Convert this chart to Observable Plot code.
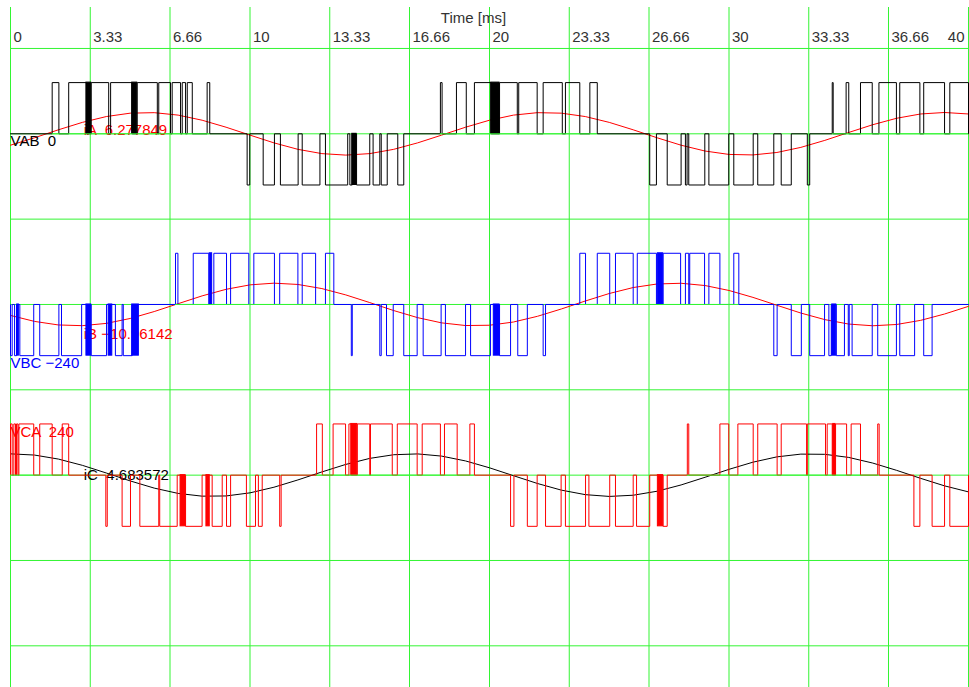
<!DOCTYPE html>
<html>
<head>
<meta charset="utf-8">
<script src="https://cdn.jsdelivr.net/npm/d3@7"></script>
<script src="https://cdn.jsdelivr.net/npm/@observablehq/plot@0.6"></script>
<style>
  body { margin: 0; background: #fff; }
  svg { display: block; }
  svg text { white-space: pre; }
</style>
</head>
<body>
<div id="chart"></div>
<script>
// Time axis (ms)
const tickTimes = [0, 3.33, 6.66, 10, 13.33, 16.66, 20, 23.33, 26.66, 30, 33.33, 36.66, 40];
const tickLabels = ["0", "3.33", "6.66", "10", "13.33", "16.66", "20", "23.33", "26.66", "30", "33.33", "36.66", "40"];

// Vertical scale: volts, one grid division = 200
const gridLevels = [200, 0, -200, -400, -600, -800, -1000, -1200];
const vdc = 120;

// Line-voltage PWM pulses: [start ms, end ms, polarity]
const vabPulses = [
  [1.74, 2.02, 1], [2.43, 3.17, 1], [3.37, 4.10, 1], [4.18, 5.08, 1], [5.29, 6.13, 1],
  [6.19, 6.68, 1], [6.75, 7.10, 1], [7.17, 7.31, 1], [7.38, 7.59, 1], [8.21, 8.32, 1],
  [9.88, 9.99, -1], [10.55, 11.02, -1], [11.27, 12.01, -1], [12.18, 12.92, -1], [13.15, 14.08, -1],
  [14.17, 14.27, -1], [14.45, 15.00, -1], [15.14, 15.42, -1], [15.48, 15.73, -1], [16.17, 16.42, -1],
  [17.95, 18.02, 1], [18.62, 19.03, 1], [19.37, 20.07, 1], [20.42, 21.16, 1], [21.22, 21.99, 1],
  [22.24, 23.04, 1], [23.17, 23.77, 1], [24.19, 24.50, 1],
  [26.69, 26.97, -1], [27.42, 28.00, -1], [28.18, 28.25, -1], [28.32, 28.99, -1], [29.16, 29.99, -1],
  [30.20, 31.01, -1], [31.20, 31.87, -1], [32.18, 32.60, -1], [33.27, 33.37, -1],
  [34.31, 34.35, 1], [34.89, 35.00, 1], [35.49, 35.98, 1], [36.26, 36.99, 1], [37.13, 37.97, 1],
  [38.13, 39.00, 1], [39.22, 40, 1]
];
// Stretches of very fast switching, drawn solid: [start ms, end ms, polarity]
const vabBursts = [[3.17, 3.37, 1], [5.08, 5.29, 1], [14.27, 14.45, -1], [20.07, 20.42, 1]];

const vbcPulses = [
  [0, 0.07, -1], [0.17, 0.25, -1], [0.39, 0.97, -1], [1.22, 2.02, -1], [2.13, 2.97, -1],
  [3.37, 4.01, -1], [4.38, 4.66, -1], [4.71, 5.08, -1],
  [6.89, 6.99, 1], [7.63, 8.28, 1], [8.49, 9.02, 1], [9.19, 9.95, 1], [10.16, 11.02, 1],
  [11.24, 12.00, 1], [12.18, 12.74, 1], [13.15, 13.50, 1],
  [14.23, 14.27, -1], [15.42, 15.48, -1], [15.70, 15.98, -1], [16.42, 16.98, -1], [17.23, 17.98, -1],
  [18.16, 19.00, -1], [19.21, 20.04, -1], [20.42, 20.88, -1], [21.18, 21.58, -1], [22.24, 22.34, -1],
  [23.77, 24.01, 1], [24.50, 25.02, 1], [25.26, 26.00, 1], [26.17, 26.97, 1], [27.25, 27.98, 1],
  [28.18, 28.32, 1], [28.36, 28.98, 1], [29.16, 29.62, 1], [30.20, 30.41, 1],
  [31.87, 32.01, -1], [32.60, 33.02, -1], [33.37, 33.99, -1], [34.17, 34.27, -1], [34.48, 34.82, -1],
  [34.98, 35.02, -1], [35.14, 35.98, -1], [36.21, 36.99, -1], [37.13, 37.75, -1], [38.13, 38.48, -1]
];
const vbcBursts = [[0.28, 0.35, -1], [3.17, 3.37, -1], [4.10, 4.25, -1], [5.08, 5.36, -1],
  [8.32, 8.42, 1], [20.18, 20.42, -1], [27.03, 27.25, 1], [34.31, 34.48, -1]];

const vcaPulses = [
  [0, 0.07, 1], [0.14, 0.21, 1], [0.25, 0.31, 1], [0.35, 0.97, 1], [1.22, 1.74, 1], [2.16, 2.43, 1],
  [3.98, 4.04, -1], [4.66, 5.01, -1], [5.40, 6.19, -1], [6.23, 6.96, -1], [7.31, 8.00, -1],
  [8.42, 8.84, -1], [9.02, 9.19, -1], [9.85, 10.23, -1], [10.35, 10.51, -1], [11.24, 11.30, -1],
  [12.78, 13.02, 1], [13.47, 13.99, 1], [14.13, 14.23, 1], [14.48, 15.00, 1], [15.03, 15.94, 1],
  [16.15, 16.98, 1], [17.19, 17.95, 1], [18.12, 18.65, 1], [19.18, 19.37, 1],
  [20.88, 21.02, -1], [21.58, 21.99, -1], [22.34, 22.99, -1], [23.17, 24.01, -1], [24.15, 25.02, -1],
  [25.26, 26.00, -1], [26.14, 26.69, -1], [27.25, 27.42, -1],
  [28.26, 28.32, 1], [29.62, 29.99, 1], [30.37, 31.01, 1], [31.20, 32.01, 1], [32.18, 33.24, 1],
  [33.27, 34.03, 1], [34.10, 34.31, 1], [34.45, 34.91, 1], [35.10, 35.49, 1], [36.21, 36.27, 1],
  [37.72, 37.97, -1], [38.48, 39.00, -1], [39.22, 40, -1]
];
const vcaBursts = [[7.10, 7.31, -1], [8.18, 8.32, -1], [14.23, 14.48, 1], [27.03, 27.25, -1], [34.35, 34.45, 1]];

// Phase currents (A), one reading per millisecond from 0 to 40 ms
const sampleTimes = d3.range(0, 41);
const iA = [-5.89, -2.06, 2.06, 5.89, 8.90, 10.65, 10.91, 9.64, 7.01, 3.40, -0.69, -4.68, -8.02, -10.23,
  -11.0, -10.23, -8.02, -4.68, -0.69, 3.40, 7.01, 9.64, 10.91, 10.65, 8.90, 5.89, 2.06, -2.06, -5.89,
  -8.90, -10.65, -10.91, -9.64, -7.01, -3.40, 0.69, 4.68, 8.02, 10.23, 11.0, 10.23];
const iB = [-5.66, -8.74, -10.58, -10.94, -9.77, -7.22, -3.66, 0.41, 4.43, 7.82, 10.12, 11.0, 10.33, 8.21,
  4.93, 0.97, -3.14, -6.80, -9.50, -10.88, -10.72, -9.06, -6.12, -2.33, 1.79, 5.66, 8.74, 10.58, 10.94,
  9.77, 7.22, 3.66, -0.41, -4.43, -7.82, -10.12, -11.0, -10.33, -8.21, -4.93, -0.97];
const iC = [10.99, 10.37, 8.30, 5.06, 1.10, -3.00, -6.69, -9.43, -10.85, -10.75, -9.14, -6.24, -2.47, 1.65,
  5.54, 8.65, 10.54, 10.96, 9.83, 7.33, 3.79, -0.28, -4.30, -7.74, -10.07, -10.99, -10.37, -8.30, -5.06,
  -1.10, 3.00, 6.69, 9.43, 10.85, 10.75, 9.14, 6.24, 2.47, -1.65, -5.54, -8.65];
const currentGain = 4.54; // display volts per ampere

// Cursor readout
const readoutTime = 3.06;
const readoutValues = [6.277849, -10.96142, 4.683572];

const traceNames = ["VAB", "VBC", "VCA"];
const tracePhases = [0, -240, 240];
const traceOffsets = [0, -400, -800];
const traceColors = ["#000000", "#0000ff", "#ff0000"];
const currentNames = ["iA", "iB", "iC"];
const currentColors = ["#ff0000", "#ff0000", "#000000"];
const gridColor = "#33f533";

const pulseSets = [vabPulses, vbcPulses, vcaPulses];
const burstSets = [vabBursts, vbcBursts, vcaBursts];
const currentSets = [iA, iB, iC];

// Signed readout: a blank takes the place of "+"
const signed = v => (v < 0 ? "\u2212" + String(-v) : "\u00a0" + String(v));

// Step outline of a pulse train around its own baseline
function stepPoints(pulses, k) {
  const off = traceOffsets[k];
  const pts = [{t: 0, v: off}];
  for (const [a, b, s] of pulses) {
    pts.push({t: a, v: off}, {t: a, v: off + s * vdc}, {t: b, v: off + s * vdc}, {t: b, v: off});
  }
  pts.push({t: 40, v: off});
  return pts;
}

// Baseline stretches spanning each run of positive pulses
function positiveRuns(pulses, k) {
  const runs = [];
  let cur = null;
  for (const [a, b, s] of pulses) {
    if (s > 0) {
      if (cur) cur.t2 = b; else cur = {t1: a, t2: b, v: traceOffsets[k]};
    } else if (cur) { runs.push(cur); cur = null; }
  }
  if (cur) runs.push(cur);
  return runs;
}

function levelAt(pulses, t) {
  for (const [a, b, s] of pulses) if (t >= a && t < b) return s * vdc;
  return 0;
}

const textColor = "#333";
const marks = [
  Plot.ruleX(tickTimes, {stroke: gridColor, strokeWidth: 1}),
  Plot.ruleY(gridLevels, {x1: 0, x2: 40, stroke: gridColor, strokeWidth: 1}),
  Plot.text(tickTimes.slice(0, -1), {x: d => d, text: (d, i) => tickLabels[i], frameAnchor: "top",
    dy: 30, dx: 3, textAnchor: "start", lineAnchor: "middle", fill: textColor}),
  Plot.text(tickTimes.slice(-1), {x: d => d, text: () => tickLabels[tickLabels.length - 1], frameAnchor: "top",
    dy: 30, dx: -4, textAnchor: "end", lineAnchor: "middle", fill: textColor}),
  Plot.text(["Time [ms]"], {frameAnchor: "top", dy: 11, dx: -16, lineAnchor: "middle", fill: textColor})
];

// Currents (under the voltage traces)
currentSets.forEach((vals, k) => {
  const data = sampleTimes.map((t, i) => ({t, v: traceOffsets[k] + vals[i] * currentGain}));
  marks.push(Plot.line(data, {x: "t", y: "v", stroke: currentColors[k], strokeWidth: 1}));
  marks.push(Plot.text([readoutValues[k]], {
    x: () => readoutTime, y: d => traceOffsets[k] + d * currentGain,
    text: d => `${currentNames[k]} ${signed(d)}`, fill: currentColors[k],
    textAnchor: "start", lineAnchor: "top", dy: 3
  }));
});

// Line voltages
pulseSets.forEach((pulses, k) => {
  marks.push(Plot.text([tracePhases[k]], {
    x: () => 0, y: () => traceOffsets[k] + levelAt(pulses, 0),
    text: d => `${traceNames[k]} ${signed(d)}`, fill: traceColors[k],
    textAnchor: "start", lineAnchor: "top", dy: 2
  }));
  marks.push(Plot.line(stepPoints(pulses, k), {x: "t", y: "v", stroke: traceColors[k], strokeWidth: 1}));
  marks.push(Plot.rect(burstSets[k], {
    x1: d => d[0], x2: d => d[1],
    y1: () => traceOffsets[k], y2: d => traceOffsets[k] + d[2] * vdc,
    fill: traceColors[k], stroke: traceColors[k], strokeWidth: 1
  }));
  marks.push(Plot.ruleY(positiveRuns(pulses, k), {x1: "t1", x2: "t2", y: "v", stroke: gridColor, strokeWidth: 1}));
});

const chart = Plot.plot({
  width: 969,
  height: 687,
  marginLeft: 10,
  marginRight: 1,
  marginTop: 7,
  marginBottom: 0,
  x: {domain: [0, 40], axis: null},
  y: {domain: [-1297.7, 296], axis: null},
  style: {fontFamily: "'Liberation Sans', Arial, sans-serif", fontSize: "15px", background: "#fff", overflow: "visible"},
  marks
});
document.getElementById("chart").appendChild(chart);
</script>
</body>
</html>
